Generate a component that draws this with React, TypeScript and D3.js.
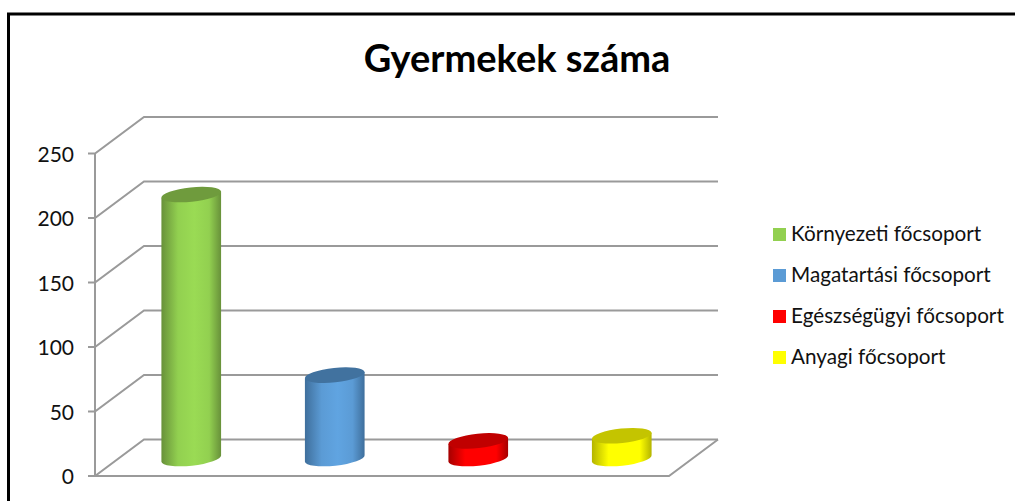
import React from 'react';
import * as d3 from 'd3';

const width = 1015;
const height = 501;

const title = 'Gyermekek száma';
const categories = ['Környezeti főcsoport', 'Magatartási főcsoport', 'Egészségügyi főcsoport', 'Anyagi főcsoport'];
const values = [205, 65, 14, 18];
const yTicks = [0, 50, 100, 150, 200, 250];
const barColors = ['#92d050', '#5b9bd5', '#ff0000', '#ffff00'];
const edgeColors = ['#68913a', '#3f6f9c', '#a50000', '#b4b400'];
const topColors = ['#6f9b3d', '#41729f', '#c00000', '#c4c400'];

const font = 'Lato, Carlito, sans-serif';
const gridColor = '#9a9a9a';

// front plane of the 3d box, the back wall is shifted by depth
const front = { left: 95, right: 669, bottom: 476, top: 153.5 };
const depth = { x: 49, y: 36.5 };

const yScale = d3.scaleLinear().domain([0, 250]).range([front.bottom, front.top]);
const xScale = d3.scaleBand<string>().domain(categories).range([front.left, front.right]);
const legendY = d3.scalePoint<string>().domain(categories).range([234, 357]);

const rx = 30;
const ry = 7.2;
const tilt = -6;
const tiltRad = (tilt * Math.PI) / 180;

const cylinderBody = (cx: number, yTop: number, yBase: number) => {
  const dx = rx * Math.cos(tiltRad);
  const dy = rx * Math.sin(tiltRad);
  return `M${cx - dx},${yTop - dy}L${cx - dx},${yBase - dy}` +
    `A${rx},${ry} ${tilt} 0 0 ${cx + dx},${yBase + dy}L${cx + dx},${yTop + dy}Z`;
};

export default function App() {
  const floorBack = yScale(0) - depth.y;
  const floor = d3.line()([
    [front.left, front.bottom],
    [front.right, front.bottom],
    [front.right + depth.x, floorBack],
  ]);

  return (
    <svg
      width={width}
      height={height}
      style={{ position: 'absolute', left: 0, top: 0, display: 'block', background: '#fff' }}
    >
      <defs>
        {categories.map((c, i) => (
          <linearGradient key={c} id={`bar-${i}`} x1="0" x2="1" y1="0" y2="0">
            <stop offset="0" stopColor={edgeColors[i]} />
            <stop offset="0.28" stopColor={barColors[i]} />
            <stop offset="0.55" stopColor={d3.color(barColors[i])!.brighter(0.15).formatHex()} />
            <stop offset="0.8" stopColor={barColors[i]} />
            <stop offset="1" stopColor={edgeColors[i]} />
          </linearGradient>
        ))}
      </defs>

      {/* only the top and left border are in the frame */}
      <path d={`M8.5,${height}V14H${width}`} fill="none" stroke="#000" strokeWidth={3} />

      <text x={517} y={72} textAnchor="middle" fontFamily={font} fontWeight={700} fontSize={38} fill="#000">
        {title}
      </text>

      <g fill="none" stroke={gridColor} strokeWidth={2}>
        {yTicks.map(t => (
          <path
            key={t}
            d={
              d3.line()([
                [front.left - 7, yScale(t)],
                [front.left, yScale(t)],
                [front.left + depth.x, yScale(t) - depth.y],
                [front.right + depth.x, yScale(t) - depth.y],
              ])!
            }
          />
        ))}
        <path d={`M${front.left},${yScale(0)}V${yScale(250)}`} />
        <path d={floor!} />
      </g>

      {yTicks.map(t => (
        <text key={t} x={74} y={yScale(t)} dy={8} textAnchor="end" fontFamily={font} fontSize={21} fill="#111">
          {t}
        </text>
      ))}

      {categories.map((c, i) => {
        const cx = xScale(c)! + xScale.bandwidth() / 2 + depth.x / 2;
        const yBase = yScale(0) - 17.5;
        const yTop = yScale(values[i]) - 17;
        return (
          <g key={c}>
            <path d={cylinderBody(cx, yTop, yBase)} fill={`url(#bar-${i})`} />
            <ellipse
              cx={cx}
              cy={yTop}
              rx={rx}
              ry={ry}
              transform={`rotate(${tilt} ${cx} ${yTop})`}
              fill={topColors[i]}
            />
          </g>
        );
      })}

      {categories.map((c, i) => (
        <g key={c} transform={`translate(773,${legendY(c)})`}>
          <rect x={0} y={-6} width={13} height={13} fill={barColors[i]} />
          <text x={18} y={7} fontFamily={font} fontSize={20.7} fill="#111">
            {c}
          </text>
        </g>
      ))}
    </svg>
  );
}
